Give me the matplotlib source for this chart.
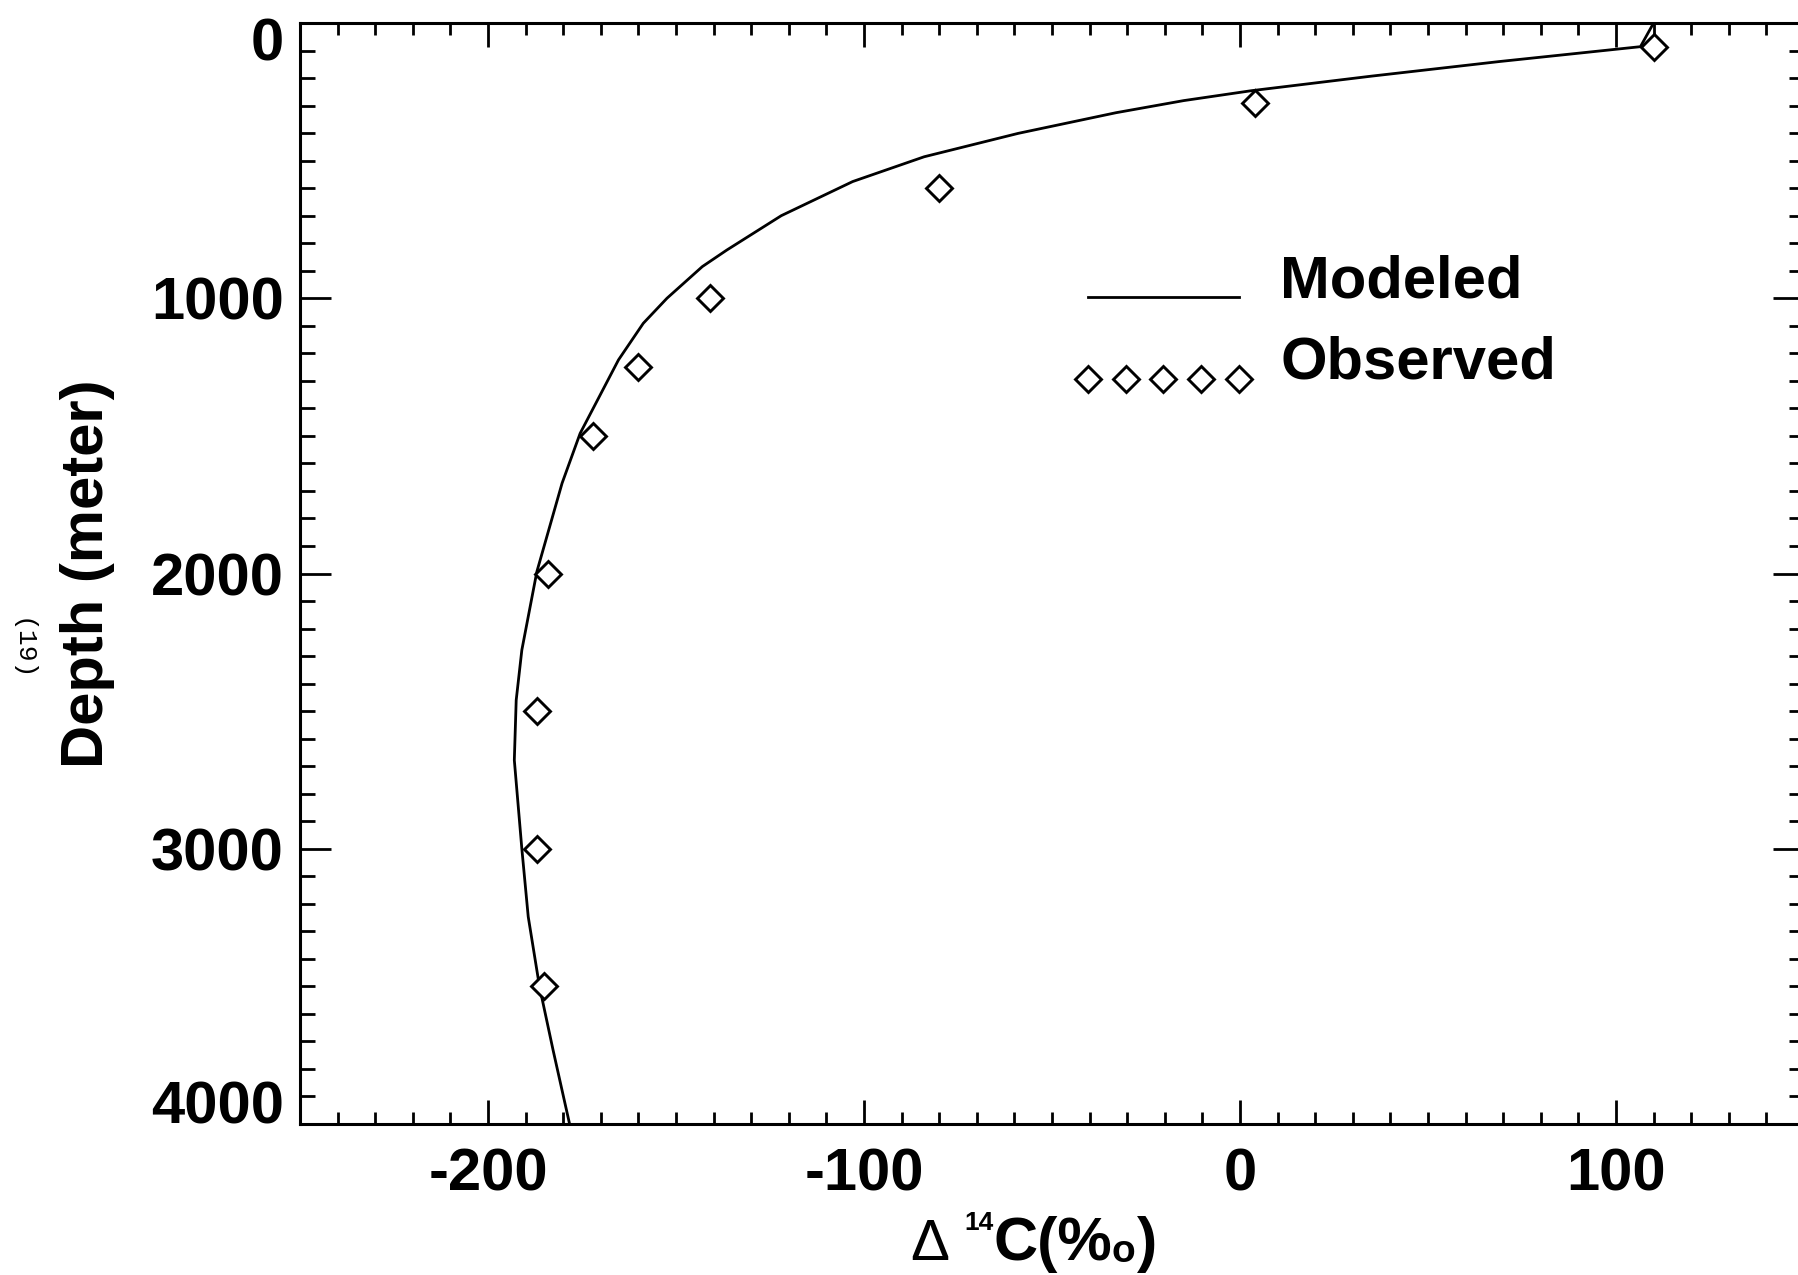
#------------------------------------------------------------------------------
#   Delta-14C depth profile: modeled vs observed
#------------------------------------------------------------------------------

import numpy as np
import matplotlib
matplotlib.use('Agg')
import matplotlib.pyplot as plt
from matplotlib.ticker import FixedLocator, MultipleLocator, FuncFormatter
from matplotlib.legend_handler import HandlerLine2D
from matplotlib.transforms import ScaledTranslation

# Modeled profile (Delta 14C in permil, depth in m)
model_c14 = [110, 106.5, 69, 35, 3, -15, -33, -59, -84, -103, -122, -136.5, -143,
             -152.4, -158.7, -165.3, -175.5, -180.3, -187, -191, -192.5, -193, -191,
             -189.3, -186.3, -182.7, -178.3]
model_depth = [0, 86, 140, 193, 246, 282, 326, 401, 486, 576, 700, 825, 885,
               1000, 1091, 1224, 1491, 1672, 1993, 2278, 2460, 2678, 3000,
               3247, 3501, 3731, 4000]

# Observed profile
obs_c14 = [110, 4, -80, -141, -160, -172, -184, -187, -187, -185]
obs_depth = [86, 290, 600, 1000, 1250, 1500, 2000, 2500, 3000, 3500]

x_ticks = [-200, -100, 0, 100]
y_ticks = [0, 1000, 2000, 3000, 4000]

plt.rcParams['font.family'] = ['Liberation Sans', 'DejaVu Sans']
plt.rcParams['font.weight'] = 'bold'

W, H = 1799, 1275
fig = plt.figure(figsize=(W / 100, H / 100), dpi=100)
ax = fig.add_axes([300 / W, 1 - 1124 / H, 1504 / W, 1101 / H])

line, = ax.plot(model_c14, model_depth, color='black', lw=2.0, label='Modeled')
pts, = ax.plot(obs_c14, obs_depth, ls='none', marker='D', ms=13, mew=2.1,
               mfc='white', mec='black', label='Observed')

ax.set_xlim(-250, 150)
ax.set_ylim(4000, 0)

ax.xaxis.set_major_locator(FixedLocator(x_ticks))
ax.xaxis.set_minor_locator(MultipleLocator(10))
ax.yaxis.set_major_locator(FixedLocator(y_ticks))
ax.yaxis.set_minor_locator(MultipleLocator(100))
ax.xaxis.set_major_formatter(FuncFormatter(lambda v, p: '%d' % v))
ax.yaxis.set_major_formatter(FuncFormatter(lambda v, p: '%d' % v))

for s in ax.spines.values():
    s.set_linewidth(2.2)

ax.tick_params(axis='both', which='both', direction='in', width=2.0,
               top=True, right=True, labelsize=43)
ax.tick_params(axis='x', which='major', length=17, pad=17)
ax.tick_params(axis='x', which='minor', length=8.5)
ax.tick_params(axis='y', which='major', length=22, pad=11.5)
ax.tick_params(axis='y', which='minor', length=11)

ylabs = ax.get_yticklabels()
ylabs[0].set_va('top')
ylabs[0].set_transform(ylabs[0].get_transform() +
                       ScaledTranslation(0, 4 / 72, fig.dpi_scale_trans))
ylabs[-1].set_va('baseline')

ax.set_ylabel('Depth (meter)', fontsize=43, fontweight='bold', labelpad=26)


# legend symbols sit on the text baseline, as in the original
class BaseHandler(HandlerLine2D):
    def create_artists(self, legend, orig_handle, xdescent, ydescent,
                       width, height, fontsize, trans):
        arts = super().create_artists(legend, orig_handle, xdescent, ydescent,
                                      width, height, fontsize, trans)
        for a in arts:
            a.set_ydata(np.asarray(a.get_ydata(), dtype=float) - 0.35 * fontsize)
        return arts


leg = ax.legend(handles=[line, pts], loc='upper left',
                bbox_to_anchor=(1070 / W, 1 - 254 / H),
                bbox_transform=fig.transFigure, frameon=False,
                numpoints=5, handlelength=3.13, handletextpad=0.39,
                labelspacing=0.45, borderpad=0, borderaxespad=0,
                prop={'size': 43, 'weight': 'bold'},
                handler_map={line: BaseHandler(), pts: BaseHandler()})

# x-axis title, built from pieces: Delta, superscript 14, C(%o)
t1 = ax.annotate('\u0394', xy=(910, H - 1260), xycoords='figure pixels',
                 fontsize=42, fontweight='normal', family='Liberation Sans',
                 ha='left', va='baseline', annotation_clip=False)
t2 = ax.annotate('14', xy=(964, H - 1230), xycoords='figure pixels',
                 fontsize=19, fontweight='bold',
                 ha='left', va='baseline', annotation_clip=False)
t3 = ax.annotate('C(%', xy=(993, H - 1260), xycoords='figure pixels',
                 fontsize=44, fontweight='bold',
                 ha='left', va='baseline', annotation_clip=False)
t4 = ax.annotate('o', xy=(1, H - 1262), xycoords=(t3, 'figure pixels'),
                 xytext=(0, 0), textcoords='offset points',
                 fontsize=28, fontweight='bold',
                 ha='left', va='baseline', annotation_clip=False)
t5 = ax.annotate(')', xy=(1, H - 1260), xycoords=(t4, 'figure pixels'),
                 xytext=(1, 0), textcoords='offset points',
                 fontsize=44, fontweight='bold',
                 ha='left', va='baseline', annotation_clip=False)

# page number printed sideways in the margin
fig.text(22 / W, 1 - 650 / H, '(19)', rotation=-90, fontsize=19,
         family='Liberation Mono', fontweight='normal',
         ha='center', va='center')

fig.savefig('out.png', dpi=100)
